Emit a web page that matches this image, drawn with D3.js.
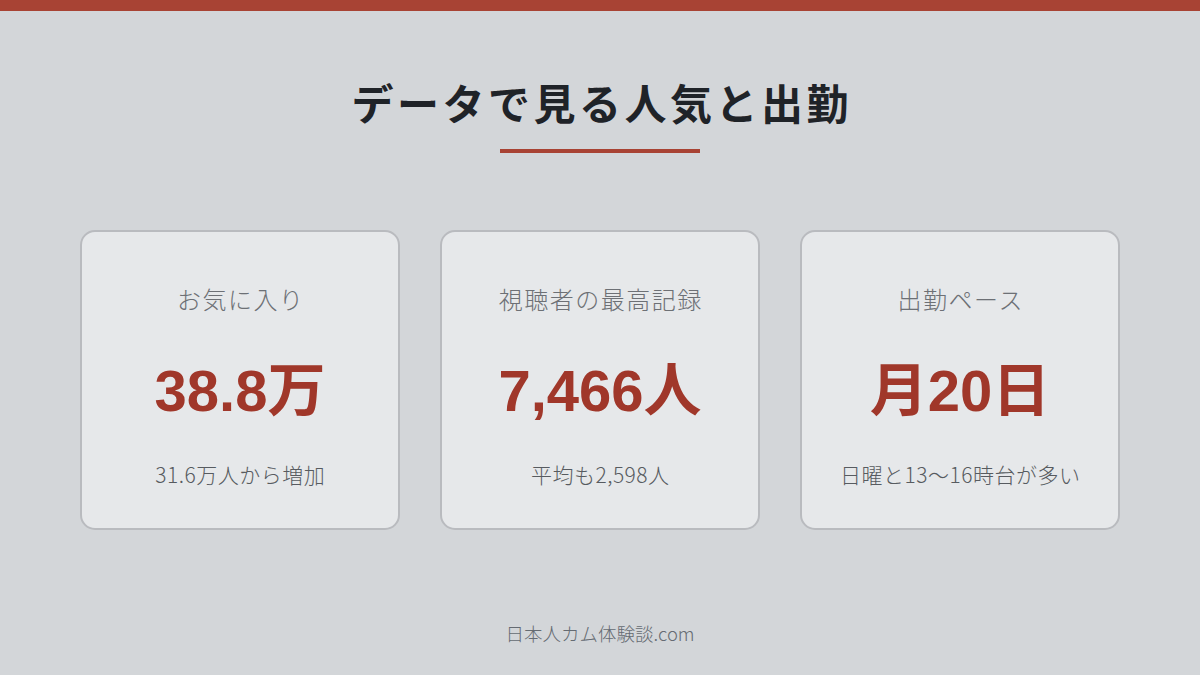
<!DOCTYPE html>
<html>
<head>
<meta charset="utf-8">
<script src="https://cdn.jsdelivr.net/npm/d3@7"></script>
<style>
  html, body { margin: 0; padding: 0; background: #d3d6d9; }
  svg { display: block; }
</style>
</head>
<body>
<svg id="chart" width="1200" height="675"></svg>
<script>
// カードの中身（見出し・大きな数字・補足）
const cardLabels = ["お気に入り", "視聴者の最高記録", "出勤ペース"];
const cardValues = ["38.8万", "7,466人", "月20日"];
const cardNotes = ["31.6万人から増加", "平均も2,598人", "日曜と13〜16時台が多い"];
const titleText = "データで見る人気と出勤";
const footerText = "日本人カム体験談.com";

const svg = d3.select("#chart");
const width = +svg.attr("width");
const height = +svg.attr("height");

const accent = "#a84334";
const cjk = "'Noto Sans CJK JP', 'Noto Sans', sans-serif";

// 背景と上の帯
svg.append("rect").attr("width", width).attr("height", height).attr("fill", "#d3d6d9");
svg.append("rect").attr("width", width).attr("height", 11).attr("fill", accent);

// タイトル（letter-spacing の末尾分を半分ずらす）
svg.append("text")
  .attr("x", width / 2 + 1.75)
  .attr("y", 101)
  .attr("text-anchor", "middle")
  .attr("dominant-baseline", "central")
  .style("font-family", cjk)
  .style("font-weight", 700)
  .style("font-size", "42px")
  .style("letter-spacing", "3.5px")
  .attr("fill", "#1f2328")
  .text(titleText);

// タイトル下の線
svg.append("rect")
  .attr("x", width / 2 - 100)
  .attr("y", 149)
  .attr("width", 200)
  .attr("height", 4)
  .attr("fill", accent);

// カードの横位置はバンドスケールで決める
const x = d3.scaleBand()
  .domain(cardLabels)
  .range([80, 1120])
  .paddingInner(40 / 360);

const cardTop = 230, cardH = 300;

const cards = svg.selectAll("g.card")
  .data(cardLabels.map((label, i) => ({ label, value: cardValues[i], note: cardNotes[i] })))
  .enter()
  .append("g")
  .attr("class", "card")
  .attr("transform", d => `translate(${x(d.label)}, ${cardTop})`);

cards.append("rect")
  .attr("x", 1)
  .attr("y", 1)
  .attr("width", x.bandwidth() - 2)
  .attr("height", cardH - 2)
  .attr("rx", 14)
  .attr("fill", "#e6e8ea")
  .attr("stroke", "#b9bbbf")
  .attr("stroke-width", 2);

// 見出し
cards.append("text")
  .attr("x", x.bandwidth() / 2 + 0.75)
  .attr("y", 68)
  .attr("text-anchor", "middle")
  .attr("dominant-baseline", "central")
  .style("font-family", cjk)
  .style("font-weight", 300)
  .style("font-size", "24px")
  .style("letter-spacing", "1.5px")
  .attr("fill", "#6d7075")
  .text(d => d.label);

// 大きな数字
cards.append("text")
  .attr("x", x.bandwidth() / 2)
  .attr("y", 160)
  .attr("text-anchor", "middle")
  .attr("dominant-baseline", "central")
  .style("font-family", "'Liberation Sans', Arial, " + cjk)
  .style("font-weight", 700)
  .style("font-size", "58px")
  .attr("fill", "#a0372a")
  .text(d => d.value);

// 補足
cards.append("text")
  .attr("x", x.bandwidth() / 2 + 0.25)
  .attr("y", 244)
  .attr("text-anchor", "middle")
  .attr("dominant-baseline", "central")
  .style("font-family", cjk)
  .style("font-weight", 300)
  .style("font-size", "21px")
  .style("letter-spacing", "0.5px")
  .attr("fill", "#575b60")
  .text(d => d.note);

// フッター
svg.append("text")
  .attr("x", width / 2)
  .attr("y", 633)
  .attr("text-anchor", "middle")
  .attr("dominant-baseline", "central")
  .style("font-family", cjk)
  .style("font-weight", 300)
  .style("font-size", "18.5px")
  .attr("fill", "#656b72")
  .text(footerText);
</script>
</body>
</html>
